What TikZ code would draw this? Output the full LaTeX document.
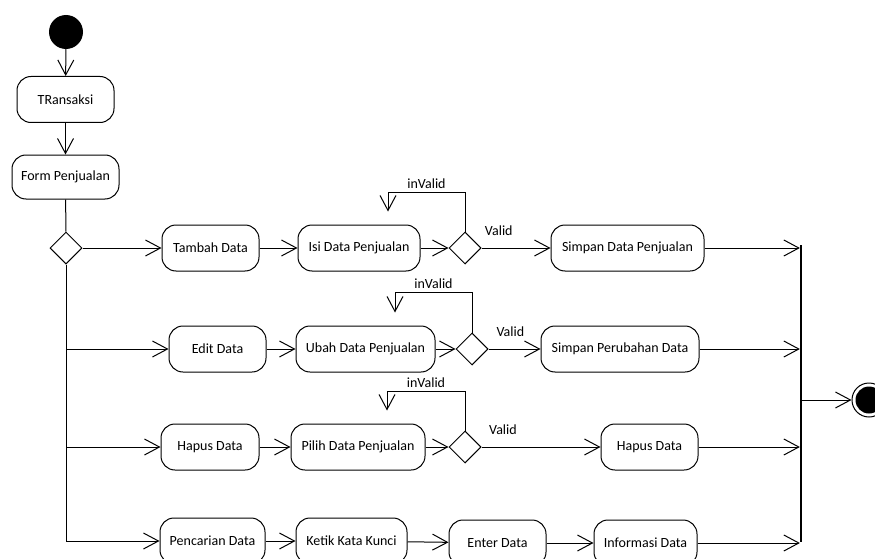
\documentclass[tikz,border=0pt]{standalone}
\usepackage{fontspec}
\setmainfont{Carlito}
\usepackage{tikz}
\usetikzlibrary{shapes.geometric, arrows.meta, positioning}
\tikzstyle{act} = [draw, rectangle, rounded corners=14pt, minimum height=46pt, inner sep=0pt, align=center, line width=1pt]
\tikzstyle{decision} = [draw, diamond, minimum width=32pt, minimum height=32pt, inner sep=0pt, line width=1pt]
\tikzstyle{startnode} = [circle, fill=black, minimum size=34pt, inner sep=0pt]
\tikzstyle{stopring} = [circle, draw, fill=white, line width=1pt, minimum size=34pt, inner sep=0pt]
\tikzstyle{stopdot} = [circle, fill=black, minimum size=27pt, inner sep=0pt]
\tikzstyle{joinbar} = [rectangle, fill=black, minimum width=1.8pt, minimum height=297pt, inner sep=0pt]
\tikzstyle{arrow} = [line width=1pt, -{Straight Barb[length=15pt,width=16pt]}]
\tikzstyle{flow} = [line width=1pt]
\tikzstyle{lbl} = [inner sep=1.5pt]

\begin{document}
\begin{tikzpicture}[x=1pt, y=-1pt, font=\fontsize{14}{16}\selectfont]
    \useasboundingbox (0,0) rectangle (875,559);
    \clip (0,0) rectangle (875,559);
    \node [startnode] (start) at (66,32) {};
    \node [act, minimum width=97pt] (trans) at (65.5,99.5) {TRansaksi};
    \node [act, minimum width=107pt, minimum height=44pt] (form) at (65.5,177) {Form Penjualan};
    \node [decision] (d0) at (66,248) {};

    \node [act, minimum width=97pt] (tambah) at (210.5,248) {Tambah Data};
    \node [act, minimum width=122pt] (isi) at (359,248) {Isi Data Penjualan};
    \node [decision] (d1) at (465,248) {};
    \node [act, minimum width=153pt] (simpan1) at (627.5,248) {Simpan Data Penjualan};

    \node [act, minimum width=97pt] (edit) at (217.5,349) {Edit Data};
    \node [act, minimum width=139pt] (ubah) at (365.5,349) {Ubah Data Penjualan};
    \node [decision] (d2) at (472,349) {};
    \node [act, minimum width=158pt] (simpan2) at (620,349) {Simpan Perubahan Data};

    \node [act, minimum width=98pt] (hapus1) at (210,447) {Hapus Data};
    \node [act, minimum width=134pt] (pilih) at (358,447) {Pilih Data Penjualan};
    \node [decision] (d3) at (465,447) {};
    \node [act, minimum width=97pt] (hapus2) at (649.5,447) {Hapus Data};

    \node [act, minimum width=105pt] (cari) at (212.5,541) {Pencarian Data};
    \node [act, minimum width=111pt] (ketik) at (351.5,541) {Ketik Kata Kunci};
    \node [act, minimum width=97pt] (enter) at (497.5,543) {Enter Data};
    \node [act, minimum width=103pt] (info) at (645.5,543) {Informasi Data};

    \node [joinbar] (join) at (801,393.5) {};
    \node [stopring] (stop) at (869,400) {};
    \node [stopdot] (stopin) at (stop) {};

    \draw [arrow] (start) -- (trans);
    \draw [arrow] (trans) -- (form);
    \draw [flow] (form) -- (d0);
    \draw [flow] (d0.south) -- (d0 |- cari);
    \draw [arrow] (d0.east) -- (tambah);
    \draw [arrow] (d0 |- edit) -- (edit);
    \draw [arrow] (d0 |- hapus1) -- (hapus1);
    \draw [arrow] (d0 |- cari) -- (cari);

    \draw [arrow] (tambah) -- (isi);
    \draw [arrow] (isi) -- (d1.west);
    \draw [arrow] (d1.north) -- ++(0,-39) -| node[lbl, pos=0.25, above=2pt] {inValid} ++(-77,19);
    \draw [arrow] (d1.east) -- node[lbl, pos=0.25, above=10pt] {Valid} (simpan1);
    \draw [arrow] (simpan1) -- (simpan1 -| join.west);

    \draw [arrow] (edit) -- (ubah);
    \draw [arrow] (ubah) -- (d2.west);
    \draw [arrow] (d2.north) -- ++(0,-40) -| node[lbl, pos=0.25, above=2pt] {inValid} ++(-77,20);
    \draw [arrow] (d2.east) -- node[lbl, pos=0.42, above=10pt] {Valid} (simpan2);
    \draw [arrow] (simpan2) -- (simpan2 -| join.west);

    \draw [arrow] (hapus1) -- (pilih);
    \draw [arrow] (pilih) -- (d3.west);
    \draw [arrow] (d3.north) -- ++(0,-39) -| node[lbl, pos=0.25, above=2pt] {inValid} ++(-78,19);
    \draw [arrow] (d3.east) -- node[lbl, pos=0.18, above=10pt] {Valid} (hapus2);
    \draw [arrow] (hapus2) -- (hapus2 -| join.west);

    \draw [arrow] (cari) -- (ketik);
    \draw [arrow] (ketik) -- (enter);
    \draw [arrow] (enter) -- (info);
    \draw [arrow] (info) -- (info -| join.west);

    \draw [arrow] (join.east |- stop) -- (stop);
\end{tikzpicture}
\end{document}
